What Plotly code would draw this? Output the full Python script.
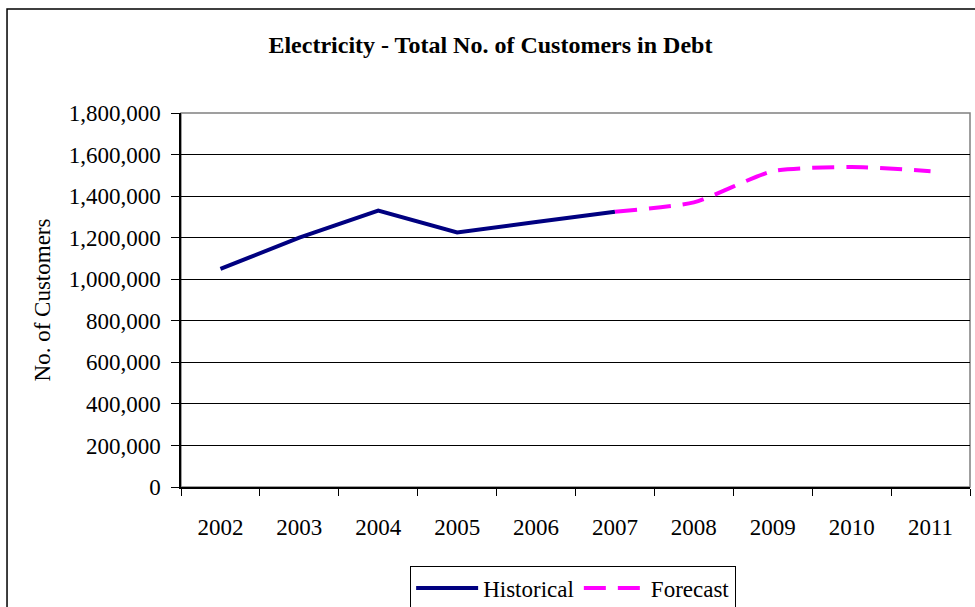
import plotly.graph_objects as go

# Customers in debt, by year
years = ["2002", "2003", "2004", "2005", "2006", "2007", "2008", "2009", "2010", "2011"]
historical = [1050000, 1200000, 1330000, 1225000, 1275000, 1325000, None, None, None, None]
forecast = [None, None, None, None, None, 1325000, 1370000, 1520000, 1540000, 1520000]
y_ticks = list(range(0, 1800001, 200000))

SERIF = "Liberation Serif, Times New Roman, serif"

fig = go.Figure()
fig.add_trace(go.Scatter(
    x=years, y=historical, name="Historical", mode="lines",
    line=dict(color="#000080", width=4),
    connectgaps=False,
))
fig.add_trace(go.Scatter(
    x=years, y=forecast, name="Forecast", mode="lines",
    line=dict(color="#FF00FF", width=4, dash="22px,12px", shape="spline", smoothing=0.6),
    connectgaps=False,
))

# outer chart frame
fig.add_shape(type="rect", xref="paper", yref="paper",
              x0=-0.2205, x1=1.02, y0=-0.4, y1=1.278,
              line=dict(color="black", width=1.5), fillcolor="rgba(0,0,0,0)", layer="below")
# plot area frame
fig.add_shape(type="rect", xref="paper", yref="paper",
              x0=0, x1=1, y0=0, y1=1,
              line=dict(color="#808080", width=1.5), fillcolor="rgba(0,0,0,0)", layer="below")

fig.update_layout(
    width=975, height=607,
    margin=dict(l=181, r=5, t=113, b=120, autoexpand=False),
    paper_bgcolor="white", plot_bgcolor="white",
    font=dict(family=SERIF, size=23, color="black"),
    title=dict(text="<b>Electricity - Total No. of Customers in Debt</b>",
               x=0.503, xanchor="center", y=0.926, yanchor="middle",
               font=dict(family=SERIF, size=24, color="black")),
    showlegend=True,
    legend=dict(orientation="h", x=0.497, xanchor="center", y=-0.21, yanchor="top",
                bordercolor="black", borderwidth=1, bgcolor="white",
                font=dict(family=SERIF, size=23), itemwidth=62, tracegroupgap=0),
    xaxis=dict(
        type="category", categoryorder="array", categoryarray=years,
        range=[-0.5, 9.5], automargin=False,
        showline=True, linecolor="black", linewidth=1.5,
        ticks="outside", tickson="boundaries", ticklen=7, tickcolor="black", tickwidth=1,
        showgrid=False, ticklabelstandoff=19,
        tickfont=dict(family=SERIF, size=23),
        zeroline=False,
    ),
    yaxis=dict(
        range=[0, 1800000], tickvals=y_ticks, tickformat=",", automargin=False,
        showline=True, linecolor="black", linewidth=1.5,
        ticks="outside", ticklen=8, tickcolor="black", tickwidth=1,
        showgrid=True, gridcolor="black", gridwidth=1,
        zeroline=False, ticklabelstandoff=6,
        tickfont=dict(family=SERIF, size=23),
        title=dict(text="No. of Customers", standoff=12,
                   font=dict(family=SERIF, size=23)),
    ),
)

fig.write_html("out.html")
